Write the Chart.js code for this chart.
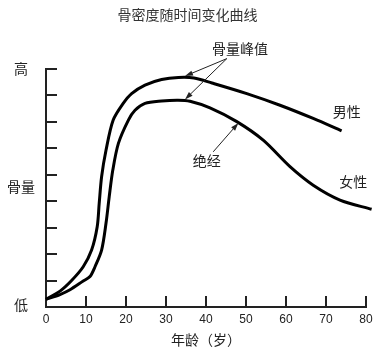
<!DOCTYPE html>
<html lang="zh">
<head>
  <meta charset="UTF-8" />
  <meta name="viewport" content="width=device-width, initial-scale=1.0"/>
  <title>骨密度随时间变化曲线</title>
  <script src="https://cdn.jsdelivr.net/npm/chart.js"></script>
  <style>
    html, body {
      margin: 0;
      padding: 0;
      background: #fff;
    }
    #wrap {
      width: 378px;
      height: 364px;
    }
  </style>
</head>
<body>
  <div id="wrap">
    <canvas id="boneChart" width="378" height="364"></canvas>
  </div>

  <script>
    // ages (years) and bone mass level
    const maleAge   = [0, 3.5, 6.4, 9.3, 11.4, 12.8, 13.3, 13.9, 15.0, 16.8, 19.3, 21.4, 24.75, 28.9, 33.1, 37, 41.5, 50.2, 58.5, 66.8, 73.9];
    const maleBone  = [0.29, 0.6, 1.0, 1.52, 2.15, 3.03, 3.91, 4.92, 5.92, 7.06, 7.69, 8.06, 8.38, 8.59, 8.67, 8.65, 8.46, 8.06, 7.62, 7.12, 6.65];

    const femaleAge  = [0, 3.5, 6.0, 9.3, 11, 12.25, 13.9, 15.0, 15.8, 16.7, 18.1, 20.6, 22.25, 24.75, 28.9, 33, 36, 41, 47.7, 54.3, 61, 66.8, 73.5, 81.4];
    const femaleBone = [0.29, 0.47, 0.65, 0.98, 1.15, 1.52, 2.15, 3.16, 4.16, 5.17, 6.18, 7.06, 7.43, 7.69, 7.78, 7.81, 7.77, 7.52, 7.0, 6.3, 5.3, 4.6, 4.04, 3.69];

    const ageTicks   = [0, 10, 20, 30, 40, 50, 60, 70, 80];
    const levelTicks = [1, 2, 3, 4, 5, 6, 7, 8, 9];
    const levelNames = ["高", "骨量", "低"];
    const levelAt    = [9, 4.54, 0.08];

    const CJK = "'Noto Sans CJK SC', sans-serif";
    const NUM = "'Liberation Sans', 'Noto Sans CJK SC', sans-serif";
    const INK = "#222";

    function toPoints(xs, ys) {
      return xs.map((a, i) => ({ x: a, y: ys[i] }));
    }

    function arrow(ctx, x1, y1, x2, y2) {
      const ang = Math.atan2(y2 - y1, x2 - x1);
      const c = Math.cos(ang), s = Math.sin(ang);
      ctx.beginPath();
      ctx.moveTo(x1, y1);
      ctx.lineTo(x2 - 5 * c, y2 - 5 * s);
      ctx.stroke();
      ctx.beginPath();
      ctx.moveTo(x2, y2);
      ctx.lineTo(x2 - 8 * c + 2.6 * s, y2 - 8 * s - 2.6 * c);
      ctx.lineTo(x2 - 8 * c - 2.6 * s, y2 - 8 * s + 2.6 * c);
      ctx.closePath();
      ctx.fill();
    }

    // inward tick marks, side labels, notes and arrows
    const sketchPlugin = {
      id: "sketch",
      afterDatasetsDraw(chart) {
        const { ctx, chartArea: area, scales: { x, y } } = chart;
        ctx.save();

        ctx.strokeStyle = INK;
        ctx.lineWidth = 2;
        ctx.beginPath();
        ageTicks.forEach(a => {
          if (a === 0) return;
          const px = Math.round(x.getPixelForValue(a));
          ctx.moveTo(px, area.bottom);
          ctx.lineTo(px, area.bottom - 11);
        });
        levelTicks.forEach(v => {
          const py = Math.round(y.getPixelForValue(v));
          ctx.moveTo(area.left, py);
          ctx.lineTo(area.left + 11, py);
        });
        ctx.stroke();

        ctx.fillStyle = INK;
        ctx.font = "14px " + CJK;
        ctx.textAlign = "center";
        ctx.textBaseline = "middle";
        levelNames.forEach((t, i) => {
          ctx.fillText(t, area.left - 25, y.getPixelForValue(levelAt[i]));
        });

        const put = (t, a, v) => ctx.fillText(t, x.getPixelForValue(a), y.getPixelForValue(v));
        put("骨量峰值", 48.5, 9.76);
        put("绝经", 40.2, 5.54);
        put("男性", 75.2, 7.37);
        put("女性", 76.8, 4.73);

        ctx.lineWidth = 1;
        const P = (a, v) => [x.getPixelForValue(a), y.getPixelForValue(v)];
        const [sx, sy] = P(45.2, 9.38);
        arrow(ctx, sx, sy, ...P(34.75, 8.72));
        arrow(ctx, sx, sy, ...P(34.75, 7.84));
        arrow(ctx, ...P(41.8, 5.86), ...P(48.1, 6.95));

        ctx.restore();
      }
    };

    const ctx = document.getElementById("boneChart").getContext("2d");

    new Chart(ctx, {
      type: "line",
      data: {
        datasets: [
          {
            label: "男性",
            data: toPoints(maleAge, maleBone),
            borderColor: "#000",
            borderWidth: 3,
            pointRadius: 0,
            tension: 0.3,
            fill: false,
            clip: false
          },
          {
            label: "女性",
            data: toPoints(femaleAge, femaleBone),
            borderColor: "#000",
            borderWidth: 3,
            pointRadius: 0,
            tension: 0.3,
            fill: false,
            clip: false
          }
        ]
      },
      options: {
        responsive: false,
        animation: false,
        layout: { padding: { left: 9, right: 12 } },
        plugins: {
          legend: { display: false },
          tooltip: { enabled: false },
          title: {
            display: true,
            text: "骨密度随时间变化曲线",
            color: "#333",
            font: { family: CJK, size: 14, weight: "normal" },
            padding: { top: 6.6, bottom: 45.3 }
          }
        },
        scales: {
          x: {
            type: "linear",
            min: 0,
            max: 80,
            grid: { display: false, drawTicks: false },
            border: { color: INK, width: 2 },
            ticks: {
              stepSize: 10,
              color: INK,
              font: { family: NUM, size: 12 },
              padding: 5
            },
            title: {
              display: true,
              text: "年龄（岁）",
              color: INK,
              font: { family: CJK, size: 14 },
              padding: { top: 0, bottom: 15.6 }
            },
            afterFit: s => { s.height = 57; }
          },
          y: {
            min: 0,
            max: 9,
            grid: { display: false, drawTicks: false },
            border: { color: INK, width: 2 },
            ticks: { display: false },
            afterFit: s => { s.width = 37; }
          }
        }
      },
      plugins: [sketchPlugin]
    });
  </script>
</body>
</html>
